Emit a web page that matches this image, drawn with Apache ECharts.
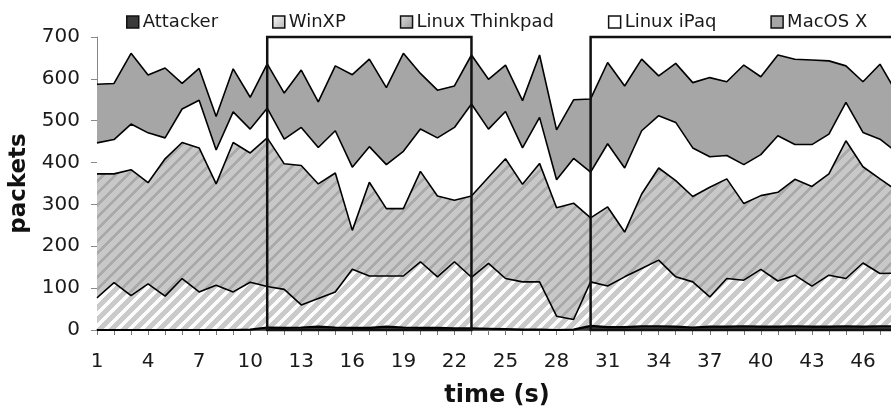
<!DOCTYPE html>
<html>
<head>
<meta charset="utf-8">
<script src="https://cdn.jsdelivr.net/npm/echarts@6/dist/echarts.min.js"></script>
<style>
  html, body { margin: 0; padding: 0; background: #fff; }
  #chart { width: 891px; height: 408px; }
</style>
</head>
<body>
<div id="chart"></div>
<script>
  // time in seconds
  const times = ['1', '2', '3', '4', '5', '6', '7', '8', '9', '10', '11', '12', '13', '14', '15', '16',
    '17', '18', '19', '20', '21', '22', '23', '24', '25', '26', '27', '28', '29', '30', '31', '32',
    '33', '34', '35', '36', '37', '38', '39', '40', '41', '42', '43', '44', '45', '46', '47', '48']

  // packets per host (stacked)
  const attacker = [0, 0, 0, 0, 0, 0, 0, 0, 0, 1, 6, 5, 6, 8, 6, 5, 5, 8, 6, 5, 5, 4, 4, 3,
    2, 1, 1, 0, 1, 10, 7, 7, 9, 9, 8, 6, 8, 8, 9, 8, 8, 9, 8, 8, 9, 8, 9, 9]
  const winxp = [77, 113, 82, 110, 81, 123, 91, 107, 91, 113, 98, 92, 54, 67, 85, 140, 124, 121, 123, 158, 122, 159, 122, 156,
    121, 114, 114, 33, 24, 105, 98, 120, 138, 158, 119, 109, 71, 115, 110, 137, 109, 122, 97, 123, 114, 152, 126, 127]
  const thinkpad = [296, 260, 301, 242, 328, 325, 344, 242, 357, 309, 355, 300, 333, 274, 284, 93, 224, 161, 161, 216, 193, 147, 194, 206,
    286, 233, 283, 259, 278, 153, 189, 107, 178, 220, 230, 204, 262, 238, 183, 176, 212, 229, 238, 242, 329, 230, 226, 197]
  const ipaq = [74, 82, 109, 119, 50, 80, 114, 81, 73, 57, 71, 59, 91, 87, 101, 151, 85, 105, 137, 101, 139, 174, 220, 115,
    113, 87, 110, 67, 107, 109, 151, 153, 151, 125, 139, 116, 73, 56, 93, 98, 135, 83, 100, 95, 92, 82, 95, 91]
  const macos = [140, 134, 169, 138, 167, 61, 76, 80, 103, 76, 106, 110, 137, 109, 155, 221, 209, 184, 234, 133, 114, 99, 117, 119,
    111, 113, 149, 119, 140, 175, 194, 196, 171, 95, 141, 156, 189, 176, 238, 186, 193, 204, 202, 175, 87, 121, 179, 141]

  // highlighted time windows
  const windows = [['11', '23'], ['30', '48']]

  const yTicks = [0, 100, 200, 300, 400, 500, 600, 700]

  // diagonal hatch tile
  function hatch(bg, stripe, size, band) {
    const c = document.createElement('canvas')
    c.width = size
    c.height = size
    const ctx = c.getContext('2d')
    const img = ctx.createImageData(size, size)
    for (let y = 0; y < size; y++) {
      for (let x = 0; x < size; x++) {
        const t = (x + y) % size
        const col = t < band ? stripe : bg
        const i = (y * size + x) * 4
        img.data[i] = col[0]
        img.data[i + 1] = col[1]
        img.data[i + 2] = col[2]
        img.data[i + 3] = 255
      }
    }
    ctx.putImageData(img, 0, 0)
    return { image: c, repeat: 'repeat' }
  }

  const winxpFill = hatch([202, 202, 202], [252, 252, 252], 12, 5)
  const thinkpadFill = hatch([200, 200, 200], [170, 170, 170], 12, 4)

  const font = 'DejaVu Sans'

  function areaSeries(name, data, fill, lw) {
    return {
      name: name,
      type: 'line',
      stack: 'all',
      data: data,
      symbol: 'none',
      lineStyle: { color: '#000', width: lw || 1.6 },
      itemStyle: { color: '#000' },
      areaStyle: { color: fill, opacity: 1 }
    }
  }

  const chart = echarts.init(document.getElementById('chart'))
  chart.setOption({
    animation: false,
    textStyle: { fontFamily: font },
    grid: { left: 97, right: -6, top: 37, bottom: 78, outerBoundsMode: 'none' },
    legend: {
      left: 121,
      top: 8,
      icon: 'rect',
      itemWidth: 12,
      itemHeight: 12,
      itemGap: 54,
      textStyle: { fontSize: 18, color: '#1a1a1a', padding: [0, 0, 0, -1] },
      data: [
        { name: 'Attacker', itemStyle: { color: '#3a3a3a', borderColor: '#111', borderWidth: 1.5 } },
        { name: 'WinXP', itemStyle: { color: { type: 'linear', x: 0, y: 0, x2: 1, y2: 1, colorStops: [{ offset: 0, color: '#fff' }, { offset: 1, color: '#b0b0b0' }] }, borderColor: '#111', borderWidth: 1.5 } },
        { name: 'Linux Thinkpad', itemStyle: { color: { type: 'linear', x: 0, y: 0, x2: 1, y2: 1, colorStops: [{ offset: 0, color: '#ddd' }, { offset: 1, color: '#999' }] }, borderColor: '#111', borderWidth: 1.5 } },
        { name: 'Linux iPaq', itemStyle: { color: '#fff', borderColor: '#111', borderWidth: 1.5 } },
        { name: 'MacOS X', itemStyle: { color: '#a6a6a6', borderColor: '#111', borderWidth: 1.5 } }
      ]
    },
    xAxis: {
      type: 'category',
      boundaryGap: false,
      data: times,
      name: 'time (s)',
      nameLocation: 'middle',
      nameGap: 54,
      nameTextStyle: { fontSize: 24, fontWeight: 'bold', color: '#111' },
      axisLine: { lineStyle: { color: '#222', width: 1.5 } },
      axisTick: { show: true, interval: 0, length: 5, lineStyle: { color: '#777' } },
      axisLabel: { interval: 2, fontSize: 20, color: '#1a1a1a', margin: 22 },
      splitLine: { show: false }
    },
    yAxis: {
      type: 'value',
      min: yTicks[0],
      max: yTicks[yTicks.length - 1],
      interval: 100,
      name: 'packets',
      nameLocation: 'middle',
      nameGap: 66,
      nameRotate: 90,
      nameTextStyle: { fontSize: 23, fontWeight: 'bold', color: '#111' },
      axisLine: { show: true, lineStyle: { color: '#888', width: 1 } },
      axisTick: { show: true, length: 6, lineStyle: { color: '#888' } },
      axisLabel: { fontSize: 20, color: '#1a1a1a', margin: 17 },
      splitLine: { show: false }
    },
    series: [
      areaSeries('Attacker', attacker, '#3a3a3a', 2.2),
      areaSeries('WinXP', winxp, winxpFill),
      areaSeries('Linux Thinkpad', thinkpad, thinkpadFill),
      areaSeries('Linux iPaq', ipaq, '#ffffff'),
      areaSeries('MacOS X', macos, '#a6a6a6'),
      {
        name: 'windows',
        type: 'line',
        data: [],
        z: 20,
        markArea: {
          silent: true,
          z: 20,
          itemStyle: { color: 'rgba(0,0,0,0)', borderColor: '#111', borderWidth: 2.5 },
          data: windows.map(w => [{ xAxis: w[0], yAxis: 0 }, { xAxis: w[1], yAxis: 700 }])
        }
      }
    ]
  })
</script>
</body>
</html>
